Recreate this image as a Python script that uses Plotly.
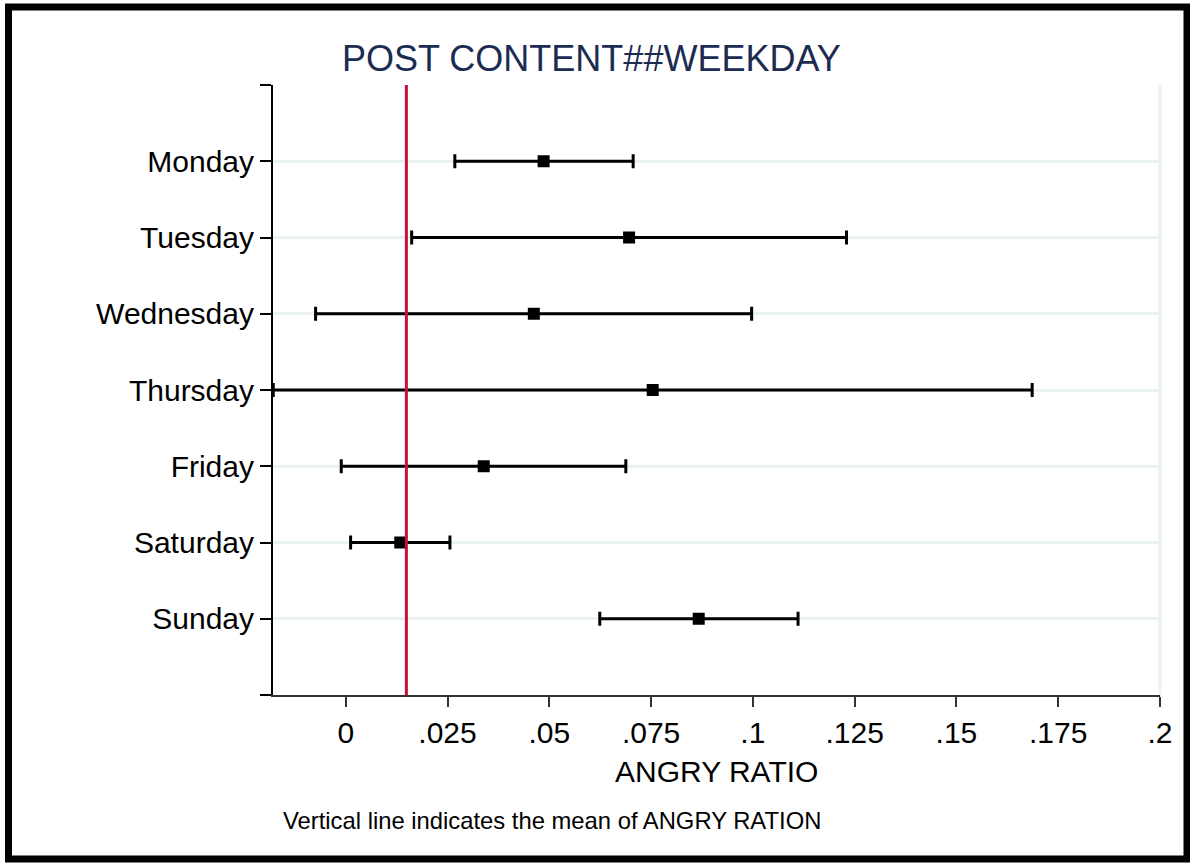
import plotly.graph_objects as go

# ---- data ----
days = ["Monday", "Tuesday", "Wednesday", "Thursday", "Friday", "Saturday", "Sunday"]
day_pos = [1, 2, 3, 4, 5, 6, 7]
means = [0.0486, 0.0696, 0.0462, 0.0754, 0.0339, 0.0134, 0.0867]
ci_low = [0.0268, 0.0162, -0.0074, -0.0178, -0.0011, 0.0012, 0.0624]
ci_high = [0.0706, 0.1230, 0.0997, 0.1686, 0.0688, 0.0256, 0.1111]
overall_mean = 0.0149
x_ticks = [0, 0.025, 0.05, 0.075, 0.1, 0.125, 0.15, 0.175, 0.2]
x_tick_text = ["0", ".025", ".05", ".075", ".1", ".125", ".15", ".175", ".2"]

W, H = 1190, 865
L, R, T, B = 273, 30, 85, 170
PW, PH = W - L - R, H - T - B

def px(x):
    return (x - L) / PW

def py(y):
    return (H - B - y) / PH

FONT = "Liberation Sans, Arial, sans-serif"

fig = go.Figure()
fig.add_trace(go.Scatter(
    x=means, y=day_pos, mode="markers",
    marker=dict(symbol="square", size=12, color="black"),
    error_x=dict(type="data", symmetric=False,
                 array=[h - m for h, m in zip(ci_high, means)],
                 arrayminus=[m - l for m, l in zip(means, ci_low)],
                 color="black", thickness=3, width=7),
    cliponaxis=False, showlegend=False, hoverinfo="skip",
))

fig.update_layout(
    width=W, height=H,
    margin=dict(l=L, r=R, t=T, b=B),
    paper_bgcolor="white", plot_bgcolor="white",
    font=dict(family=FONT, color="black"),
    xaxis=dict(range=[-0.01786, 0.2], tickvals=x_ticks, ticktext=x_tick_text,
               ticks="outside", ticklen=10, tickwidth=2, tickcolor="#333333",
               showline=True, linecolor="#333333", linewidth=2,
               showgrid=False, zeroline=False,
               tickfont=dict(size=30, family=FONT, color="black")),
    yaxis=dict(range=[8, 0], tickvals=[0] + day_pos + [8],
               ticktext=[""] + days + [""],
               ticks="outside", ticklen=11, tickwidth=2, tickcolor="black",
               showline=True, linecolor="black", linewidth=2,
               showgrid=True, gridcolor="#eaf2f3", gridwidth=3,
               zeroline=False,
               tickfont=dict(size=30, family=FONT, color="black")),
    shapes=[
        # right frame edge (light)
        dict(type="line", xref="paper", yref="paper", x0=1, x1=1, y0=0, y1=1,
             line=dict(color="#eaf2f3", width=3), layer="below"),
        # mean line
        dict(type="line", xref="x", yref="paper", x0=overall_mean, x1=overall_mean,
             y0=0, y1=1, line=dict(color="#c8103a", width=3)),
        # outer border
        dict(type="rect", xref="paper", yref="paper",
             x0=px(8.5), x1=px(1187), y0=py(7), y1=py(859),
             line=dict(color="black", width=7)),
    ],
    annotations=[
        dict(text="POST CONTENT##WEEKDAY", xref="paper", yref="paper",
             x=px(591), y=py(58), xanchor="center", yanchor="middle",
             showarrow=False, font=dict(size=36, family=FONT, color="#1c2b52")),
        dict(text="ANGRY RATIO", xref="paper", yref="paper",
             x=px(716.5), y=py(771), xanchor="center", yanchor="middle",
             showarrow=False, font=dict(size=30, family=FONT, color="black")),
        dict(text="Vertical line indicates the mean of ANGRY RATION", xref="paper", yref="paper",
             x=px(281), y=py(820), xanchor="left", yanchor="middle",
             showarrow=False, font=dict(size=23.8, family=FONT, color="black")),
    ],
)

fig.write_html("out.html",
               config={"displayModeBar": False},
               post_script="document.body.style.margin='0';document.body.style.padding='0';")
